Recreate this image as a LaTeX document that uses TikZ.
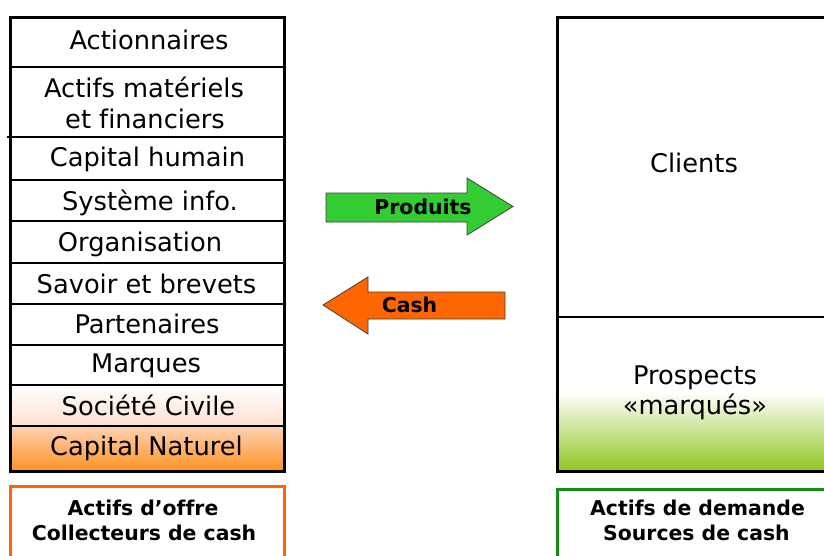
\documentclass[tikz,border=0pt]{standalone}
\usepackage{fontspec}
\setmainfont[Ligatures={NoCommon}]{DejaVu Sans}
\begin{document}
\definecolor{offerorange}{RGB}{255,102,0}
\definecolor{cashorange}{RGB}{255,102,0}
\definecolor{prodgreen}{RGB}{51,204,51}
\definecolor{demandgreen}{RGB}{20,140,20}
\definecolor{leafgreen}{RGB}{146,200,38}
\definecolor{peach}{RGB}{252,224,208}
\definecolor{apricot}{RGB}{252,210,180}
\definecolor{deeporange}{RGB}{255,146,34}
\begin{tikzpicture}[x=1pt,y=-1pt,
  celltext/.style={anchor=base,inner sep=0pt,font=\fontsize{25.7}{31}\selectfont},
  boldtext/.style={anchor=base,inner sep=0pt,font=\bfseries\fontsize{20.4}{25}\selectfont},
  outerbox/.style={draw=black,line width=3pt},
  divider/.style={draw=black,line width=1.6pt},
  flowarrow/.style={draw=black!75,line width=0.8pt,line join=miter}]
\clip (0,0) rectangle (824,555);
\fill[white] (0,0) rectangle (824,555);

% ---- supply-side column: fills
\shade[top color=white,bottom color=peach] (10,385) rectangle (284,426);
\shade[top color=apricot,bottom color=deeporange] (10,426) rectangle (284,471);

% ---- supply-side column: dividers
\foreach \yy in {67,180,221,263,304,345,385,426}
  \draw[divider] (10,\yy) -- (284,\yy);
\draw[divider] (7,137) -- (284,137);
\draw[outerbox] (10,17) rectangle (284,471);

% ---- supply-side column: labels
\node[celltext] (actionnaires) at (149,49) {Actionnaires};
\node[celltext] (actifs1) at (144,97) {Actifs matériels};
\node[celltext] (actifs2) at (145,128) {et financiers};
\node[celltext] (humain) at (147.5,166) {Capital humain};
\node[celltext] (sysinfo) at (150,210) {Système info.};
\node[celltext] (organisation) at (140,251) {Organisation};
\node[celltext] (savoir) at (146.5,293) {Savoir et brevets};
\node[celltext] (partenaires) at (147,333) {Partenaires};
\node[celltext] (marques) at (146,372) {Marques};
\node[celltext] (societe) at (148.5,415) {Société Civile};
\node[celltext] (naturel) at (146.5,455) {Capital Naturel};

% ---- demand-side column
\fill[white] (557,317) rectangle (832,392);
\shade[top color=white,bottom color=leafgreen] (557,392) rectangle (832,469);
\draw[divider] (557,317) -- (832,317);
\draw[outerbox] (557,17) rectangle (832,471);
\node[celltext] (clients) at (694,172.5) {Clients};
\node[celltext] (prospects1) at (695,384) {Prospects};
\node[celltext] (prospects2) at (695,414) {«marqués»};

% ---- flows between the two sides
\draw[flowarrow,fill=prodgreen]
  (326,193) -- (467,193) -- (467,178) -- (513,206.5) -- (467,235) -- (467,222) -- (326,222) -- cycle;
\node[boldtext] (produits) at (423,214) {Produits};
\draw[flowarrow,fill=cashorange]
  (505,292) -- (368,292) -- (368,277) -- (323,305) -- (368,334) -- (368,319) -- (505,319) -- cycle;
\node[boldtext] (cash) at (409.5,312) {Cash};

% ---- captions
\draw[draw=offerorange,line width=3pt] (10,486.5) rectangle (284,575);
\node[boldtext] (offre1) at (143,515) {Actifs d’offre};
\node[boldtext] (offre2) at (144,540) {Collecteurs de cash};
\draw[draw=demandgreen,line width=3pt] (557,489.5) rectangle (832,575);
\node[boldtext] (demande1) at (697.5,515) {Actifs de demande};
\node[boldtext] (demande2) at (696.5,540.5) {Sources de cash};
\end{tikzpicture}
\end{document}
